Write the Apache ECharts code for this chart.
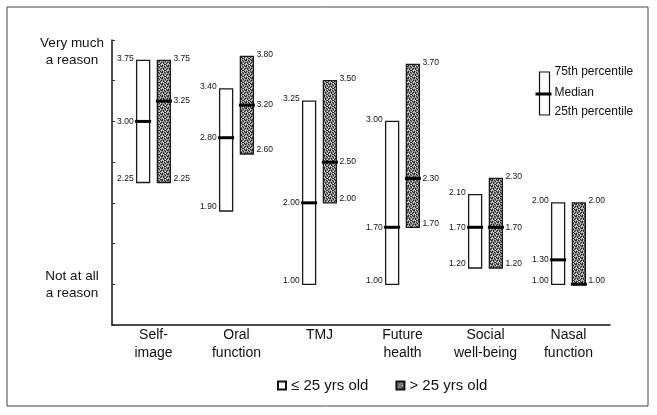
<!DOCTYPE html>
<html>
<head>
<meta charset="utf-8">
<script src="https://cdn.jsdelivr.net/npm/echarts@6/dist/echarts.min.js"></script>
<style>
html,body{margin:0;padding:0;background:#fff;}
#chart{width:657px;height:415px;}
</style>
</head>
<body>
<div id="chart"></div>
<script>
// ---- data ----
const categories = ['Self-\nimage', 'Oral\nfunction', 'TMJ', 'Future\nhealth', 'Social\nwell-being', 'Nasal\nfunction'];
const youngQ1     = [2.25, 1.90, 1.00, 1.00, 1.20, 1.00];
const youngMedian = [3.00, 2.80, 2.00, 1.70, 1.70, 1.30];
const youngQ3     = [3.75, 3.40, 3.25, 3.00, 2.10, 2.00];
const olderQ1     = [2.25, 2.60, 2.00, 1.70, 1.20, 1.00];
const olderMedian = [3.25, 3.20, 2.50, 2.30, 1.70, 1.00];
const olderQ3     = [3.75, 3.80, 3.50, 3.70, 2.30, 2.00];
const seriesNames = ['\u2264 25 yrs old', '> 25 yrs old'];

// stipple pattern for the older group
function makePattern() {
  const c = document.createElement('canvas');
  c.width = 6; c.height = 6;
  const ctx = c.getContext('2d');
  ctx.fillStyle = '#8a8a8a';
  ctx.fillRect(0, 0, 6, 6);
  const dark = [[0,0],[3,1],[1,2],[5,2],[2,4],[4,3],[0,5],[4,5],[2,0],[5,0],[1,3],[3,4]];
  const light = [[1,0],[4,1],[3,3],[0,3],[5,4],[1,4],[3,5]];
  ctx.fillStyle = '#2a2a2a';
  dark.forEach(p => ctx.fillRect(p[0], p[1], 1, 1));
  ctx.fillStyle = '#d8d8d8';
  light.forEach(p => ctx.fillRect(p[0], p[1], 1, 1));
  return c;
}
const grayFill = {image: makePattern(), repeat: 'repeat'};

const labelFont = '8.5px "Liberation Sans", Arial, sans-serif';
const fmt = v => v.toFixed(2);

function makeRender(side, fill) {
  return function (params, api) {
    const i = api.value(0);
    const q1 = api.value(1), med = api.value(2), q3 = api.value(3);
    const band = api.size([1, 0])[0];
    const off = side * band * 0.125;
    const w = 13;
    const top = api.coord([i, q3]);
    const bot = api.coord([i, q1]);
    const mid = api.coord([i, med]);
    const cx = top[0] + off;
    const x0 = cx - w / 2;
    const children = [
      {type: 'rect', shape: {x: x0, y: top[1], width: w, height: bot[1] - top[1]},
       style: {fill: fill, stroke: '#1a1a1a', lineWidth: 1.3}},
      {type: 'line', shape: {x1: x0 - 1.5, y1: mid[1], x2: x0 + w + 1.5, y2: mid[1]},
       style: {stroke: '#000', lineWidth: 3}}
    ];
    const lx = side < 0 ? x0 - 3 : x0 + w + 3;
    const align = side < 0 ? 'right' : 'left';
    const addLabel = (v, y) => children.push({type: 'text', x: lx, y: y,
      style: {text: fmt(v), font: labelFont, fill: '#111', align: align, verticalAlign: 'middle'}});
    addLabel(q3, top[1] - 2);
    if (med !== q1 && med !== q3) addLabel(med, mid[1]);
    addLabel(q1, bot[1] - 4);
    return {type: 'group', children: children};
  };
}

const chart = echarts.init(document.getElementById('chart'));
chart.setOption({
  animation: false,
  backgroundColor: '#fff',
  textStyle: {fontFamily: '"Liberation Sans", Arial, sans-serif', color: '#111'},
  grid: {left: 112, right: 47, top: 40, bottom: 90},
  legend: {
    data: seriesNames,
    left: 272, top: 373,
    itemWidth: 8, itemHeight: 8, itemGap: 27,
    icon: 'rect',
    textStyle: {fontSize: 15, color: '#111', fontFamily: '"Liberation Sans", Arial, sans-serif'}
  },
  xAxis: {
    type: 'category',
    data: categories,
    axisLine: {lineStyle: {color: '#111', width: 1.5}},
    axisTick: {show: false},
    axisLabel: {fontSize: 14, lineHeight: 18, margin: 1, color: '#111', interval: 0}
  },
  yAxis: {
    type: 'value',
    min: 0.5, max: 4, interval: 0.5,
    splitLine: {show: false},
    axisLine: {show: true, lineStyle: {color: '#111', width: 1.5}},
    axisTick: {show: true, inside: true, length: 3, lineStyle: {color: '#333'}},
    axisLabel: {
      fontSize: 13.5, color: '#111', align: 'center', margin: 40,
      formatter: function (v) {
        if (v === 4) return '{gap|\u00a0}\n{t|Very much}\n{t|a reason}';
        if (v === 1) return '{t|Not at all}\n{t|a reason}';
        return '';
      },
      rich: {
        gap: {lineHeight: 23, fontSize: 13.5},
        t: {lineHeight: 17, fontSize: 13.5, color: '#111'}
      }
    }
  },
  series: [
    {
      name: seriesNames[0], type: 'custom',
      itemStyle: {color: '#fff', borderColor: '#111', borderWidth: 1},
      encode: {x: 0, y: [1, 2, 3]},
      data: categories.map((c, i) => [i, youngQ1[i], youngMedian[i], youngQ3[i]]),
      renderItem: makeRender(-1, '#fff')
    },
    {
      name: seriesNames[1], type: 'custom',
      itemStyle: {color: grayFill, borderColor: '#111', borderWidth: 1},
      encode: {x: 0, y: [1, 2, 3]},
      data: categories.map((c, i) => [i, olderQ1[i], olderMedian[i], olderQ3[i]]),
      renderItem: makeRender(1, grayFill)
    }
  ],
  graphic: [
    {type: 'rect', shape: {x: 7, y: 7, width: 641, height: 399}, silent: true,
     style: {fill: 'none', stroke: '#444', lineWidth: 1}},
    {type: 'group', left: 533, top: 66, children: [
      {type: 'rect', shape: {x: 4, y: 6, width: 10, height: 43},
       style: {fill: '#fff', stroke: '#111', lineWidth: 1.2}},
      {type: 'line', shape: {x1: 0, y1: 28, x2: 16, y2: 28},
       style: {stroke: '#000', lineWidth: 3}},
      {type: 'text', x: 19, y: 6, style: {text: '75th percentile', font: '12px "Liberation Sans", Arial, sans-serif', fill: '#111', verticalAlign: 'middle'}},
      {type: 'text', x: 19, y: 27, style: {text: 'Median', font: '12px "Liberation Sans", Arial, sans-serif', fill: '#111', verticalAlign: 'middle'}},
      {type: 'text', x: 19, y: 46, style: {text: '25th percentile', font: '12px "Liberation Sans", Arial, sans-serif', fill: '#111', verticalAlign: 'middle'}}
    ]}
  ]
});
</script>
</body>
</html>
